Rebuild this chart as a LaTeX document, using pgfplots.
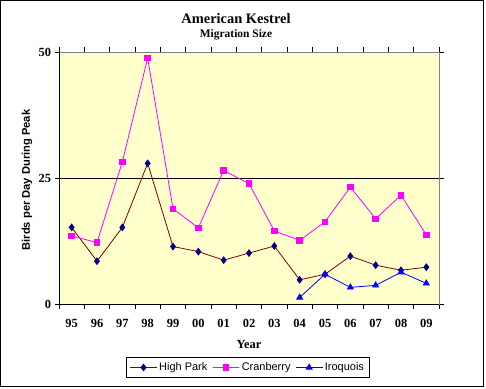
\documentclass[border=0pt]{standalone}
\usepackage{pgfplots}
\pgfplotsset{compat=1.18}
\usepackage{fontspec}
\setmainfont{Liberation Serif}
\setsansfont{Liberation Sans}
\definecolor{bgyellow}{HTML}{FFFFCC}
\definecolor{hpline}{HTML}{800000}
\definecolor{hpmark}{HTML}{000080}
\definecolor{cran}{HTML}{FF00FF}
\definecolor{iroq}{HTML}{0000FF}
\definecolor{bordergray}{HTML}{808080}
\begin{document}
\begin{tikzpicture}[x=1bp,y=1bp]
\useasboundingbox (0,0) rectangle (486,388);
\fill[white] (0,0) rectangle (486,388);
\draw[black, line width=1bp] (0.5,1.5) rectangle (483.5,387.5);
\begin{axis}[
  at={(59bp,84bp)}, anchor=south west,
  scale only axis, width=380bp, height=252bp,
  xmin=-0.5, xmax=14.5, ymin=0, ymax=50,
  axis background/.style={fill=bgyellow},
  axis line style={bordergray, line width=0.8bp},
  tick align=outside,
  major tick length=4.5bp,
  tick style={black, line width=0.8bp},
  xtick={-0.5,0.5,...,14.5}, xticklabels={},
  extra x ticks={0,1,...,14},
  extra x tick labels={95,96,97,98,99,00,01,02,03,04,05,06,07,08,09},
  extra x tick style={major tick length=0pt, xticklabel style={yshift=-12bp}},
  ytick={0,25,50}, yticklabels={0,25,50},
  ticklabel style={font=\bfseries\fontsize{12.5}{12.5}\selectfont},
  xlabel={Year},
  xlabel style={font=\bfseries\fontsize{12.5}{12.5}\selectfont, at={(axis description cs:0.5,-0.159)}, anchor=center},
  ylabel={Birds per Day During Peak},
  ylabel style={font=\sffamily\bfseries\fontsize{11.2}{11.2}\selectfont, at={(axis description cs:-0.084,0.492)}, anchor=center},
  legend columns=3,
  legend style={at={(axis description cs:0.497,-0.252)}, anchor=center, draw=black, line width=0.8bp,
    font=\sffamily\fontsize{11}{13}\selectfont, inner xsep=3bp, inner ysep=3.5bp,
    /tikz/every even column/.append style={column sep=3bp}},
  legend image code/.code={\draw[mark repeat=2,mark phase=2] plot coordinates {(0cm,0cm) (0.47cm,0cm) (0.94cm,0cm)};},
]
\draw[black, line width=0.8bp] (axis cs:-0.5,25) -- (axis cs:14.5,25);
\draw[black, line width=0.8bp] (rel axis cs:0,1) -- (rel axis cs:0,0) -- (rel axis cs:1,0);
\addplot[hpline, line width=0.8bp, mark=diamond*, mark size=3.3bp, mark options={draw=hpmark, fill=hpmark}] coordinates {
(0,15.2) (1,8.5) (2,15.2) (3,27.9) (4,11.4) (5,10.4) (6,8.7) (7,10.1) (8,11.5) (9,4.8) (10,5.9) (11,9.5) (12,7.7) (13,6.7) (14,7.3)};
\addlegendentry{High Park}
\addplot[cran, line width=0.8bp, mark=square*, mark size=2.8bp, mark options={draw=cran, fill=cran}] coordinates {
(0,13.5) (1,12.2) (2,28.2) (3,48.8) (4,18.9) (5,15.1) (6,26.5) (7,23.9) (8,14.5) (9,12.6) (10,16.3) (11,23.2) (12,16.9) (13,21.6) (14,13.7)};
\addlegendentry{Cranberry}
\addplot[iroq, line width=0.8bp, mark=triangle*, mark size=3.4bp, mark options={draw=iroq, fill=iroq}] coordinates {
(9,1.3) (10,5.9) (11,3.3) (12,3.7) (13,6.3) (14,4.1)};
\addlegendentry{Iroquois}
\end{axis}
\node[font=\bfseries\fontsize{14.5}{14.5}\selectfont] at (236,369) {American Kestrel};
\node[font=\bfseries\fontsize{11.5}{11.5}\selectfont] at (236,353) {Migration Size};
\end{tikzpicture}
\end{document}
